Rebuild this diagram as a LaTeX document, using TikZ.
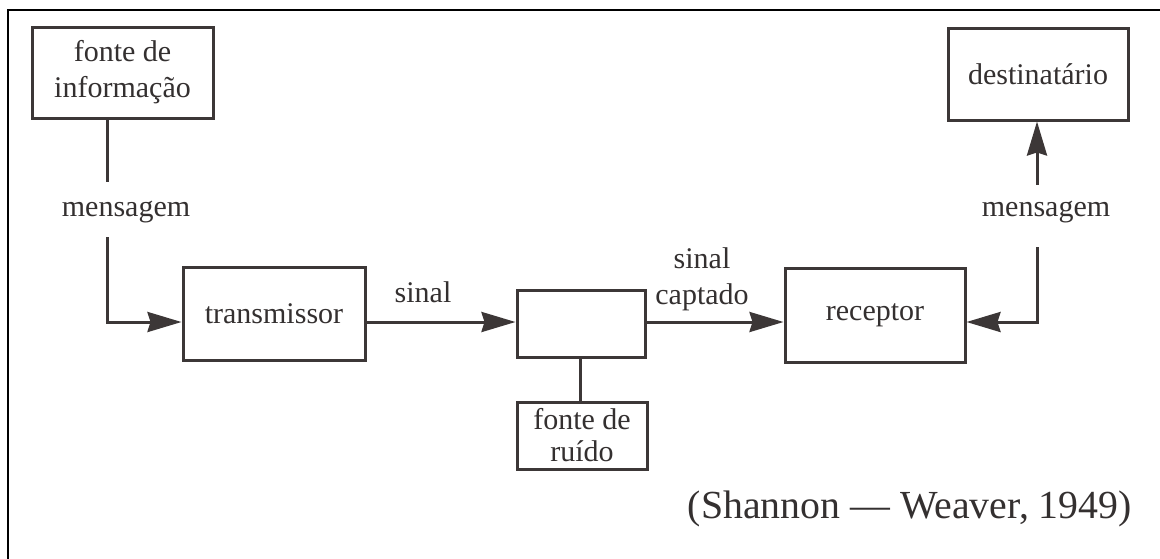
\documentclass[tikz,border=0pt]{standalone}
\usepackage{fontspec}
\setmainfont{Liberation Serif}
\usetikzlibrary{arrows.meta,calc}
\definecolor{ink}{HTML}{3C3737}
\definecolor{txt}{HTML}{343030}
\newcommand\diagfont{\fontsize{30}{36}\selectfont}
\begin{document}
\begin{tikzpicture}[x=1pt,y=-1pt,
  box/.style={draw=ink, line width=3pt, inner sep=0pt, align=center, text=txt, font=\diagfont},
  lbl/.style={text=txt, font=\diagfont, inner sep=0pt, align=center},
  wire/.style={draw=ink, line width=3pt},
  flow/.style={wire, -{Stealth[length=34pt,width=20pt,inset=3pt]}}]
\useasboundingbox (0,0) rectangle (1160,558);
\fill[white] (0,0) rectangle (1160,558);
% page frame (only left and top edges fall inside)
\draw[black, line width=2.5pt] (8,580) -- (8,10) -- (1180,10);

% blocks
\node[box, minimum width=181pt, minimum height=91pt] (src) at (122.5,72.5) {fonte de\\informação};
\node[box, minimum width=182pt, minimum height=93pt] (tx) at (274,313.5) {transmissor};
\node[box, minimum width=128pt, minimum height=67pt] (ch) at (581,323.5) {};
\node[box, minimum width=130pt, minimum height=67pt, font=\fontsize{30}{32}\selectfont] (nz) at (582,435.5) {fonte de\\ruído};
\node[box, minimum width=180pt, minimum height=94pt] (rx) at (875,315) {receptor};
\node[box, minimum width=180pt, minimum height=92pt] (dst) at (1038,74) {destinatário};

% labels
\node[lbl] (m1) at (126,212) {mensagem};
\node[lbl] (s1) at (423,292) {sinal};
\node[lbl] (s2) at (702,279) {sinal\\captado};
\node[lbl] (m2) at (1046,212) {mensagem};
\node[anchor=base east, inner sep=0pt, text=txt, font=\fontsize{39.8}{44}\selectfont] (ref) at (1132,518) {(Shannon — Weaver, 1949)};

% bends
\coordinate (k1) at (107,322);
\coordinate (k2) at (1037,322);

% connectors
\draw[wire] (src.south -| k1) -- ($(m1.north -| k1)+(0,-19)$);
\draw[flow] ($(m1.south -| k1)+(0,14)$) -- (k1) -- (tx.west |- k1);
\draw[flow] (tx.east |- k1) -- (ch.west |- k1);
\draw[wire] (ch.south -| 580,0) -- (nz.north -| 580,0);
\draw[flow] (ch.east |- k1) -- (rx.west |- k1);
\draw[flow] ($(m2.south -| k2)+(0,24)$) -- (k2) -- (rx.east |- k2);
\draw[flow] ($(m2.north -| k2)+(0,-16)$) -- (dst.south -| k2);
\end{tikzpicture}
\end{document}
